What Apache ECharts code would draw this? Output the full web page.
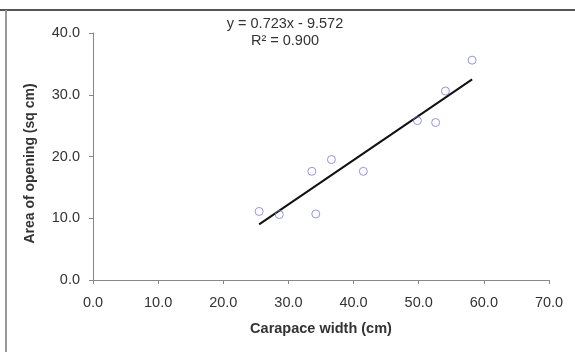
<!DOCTYPE html>
<html>
<head>
<meta charset="utf-8">
<script src="https://cdn.jsdelivr.net/npm/echarts@6/dist/echarts.min.js"></script>
<style>
  html, body { margin: 0; padding: 0; background: #fff; }
  #chart { width: 575px; height: 352px; }
</style>
</head>
<body>
<div id="chart"></div>
<script>
// carapace width (cm) vs area of opening (sq cm)
const widths = [25.5, 28.6, 33.6, 34.2, 36.6, 41.5, 49.8, 52.6, 54.1, 58.2]
const areas = [11.1, 10.6, 17.6, 10.7, 19.5, 17.6, 25.8, 25.5, 30.6, 35.6]

// fitted line end points
const trendX = [25.5, 58.2]
const trendY = [9.0, 32.5]

const equationText = 'y = 0.723x - 9.572'
const r2Text = 'R\u00b2 = 0.900'

const chart = echarts.init(document.getElementById('chart'), null, { renderer: 'canvas' })

const font = 'Liberation Sans, Arial, sans-serif'
const axisColor = '#888'
const labelColor = '#333'

chart.setOption({
  backgroundColor: '#fff',
  animation: false,
  textStyle: { fontFamily: font },
  grid: { left: 93, right: 26, top: 33, bottom: 72 },
  xAxis: {
    type: 'value',
    min: 0,
    max: 70,
    interval: 10,
    name: 'Carapace width (cm)',
    nameLocation: 'middle',
    nameGap: 41,
    nameTextStyle: { color: labelColor, fontSize: 14.5, fontWeight: 'bold', fontFamily: font },
    axisLine: { show: true, lineStyle: { color: axisColor } },
    axisTick: { show: true, length: 4, lineStyle: { color: axisColor } },
    axisLabel: {
      color: labelColor,
      fontSize: 14.5,
      margin: 15,
      formatter: v => v.toFixed(1)
    },
    splitLine: { show: false }
  },
  yAxis: {
    type: 'value',
    min: 0,
    max: 40,
    interval: 10,
    name: 'Area of opening (sq cm)',
    nameLocation: 'middle',
    nameGap: 56,
    nameTextStyle: {
      color: labelColor, fontSize: 14, fontWeight: 'bold', fontFamily: font,
      padding: [0, 14, 0, 0]
    },
    axisLine: { show: true, lineStyle: { color: axisColor } },
    axisTick: { show: true, length: 4, lineStyle: { color: axisColor } },
    axisLabel: {
      color: labelColor,
      fontSize: 14.5,
      margin: 13,
      formatter: v => v.toFixed(1)
    },
    splitLine: { show: false }
  },
  series: [
    {
      type: 'line',
      data: trendX.map((x, i) => [x, trendY[i]]),
      showSymbol: false,
      lineStyle: { color: '#111', width: 2 },
      z: 2
    },
    {
      type: 'scatter',
      data: widths.map((x, i) => [x, areas[i]]),
      symbol: 'circle',
      symbolSize: 8,
      itemStyle: { color: 'rgba(0,0,0,0)', borderColor: '#7b7bd6', borderWidth: 1 },
      z: 3
    }
  ],
  graphic: [
    { type: 'line', shape: { x1: 0, y1: 10, x2: 575, y2: 10 }, style: { stroke: '#555', lineWidth: 2 } },
    { type: 'line', shape: { x1: 6, y1: 10, x2: 6, y2: 352 }, style: { stroke: '#999', lineWidth: 2 } },
    {
      type: 'text',
      style: {
        text: equationText, x: 285, y: 24, textAlign: 'center', textVerticalAlign: 'middle',
        fill: labelColor, font: '14.5px ' + font
      }
    },
    {
      type: 'text',
      style: {
        text: r2Text, x: 285, y: 41, textAlign: 'center', textVerticalAlign: 'middle',
        fill: labelColor, font: '14.5px ' + font
      }
    }
  ]
})

window.addEventListener('resize', () => chart.resize())
</script>
</body>
</html>
